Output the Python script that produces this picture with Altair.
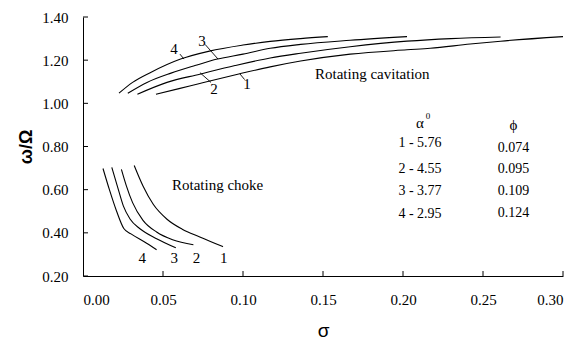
import altair as alt
import pandas as pd

# Rotating cavitation curves (sigma, omega/Omega)
cav1_x = [0.0456, 0.060, 0.073, 0.098, 0.117, 0.136, 0.167, 0.2025, 0.217, 0.242, 0.261, 0.300]
cav1_y = [1.042, 1.068, 1.092, 1.137, 1.169, 1.196, 1.228, 1.248, 1.255, 1.275, 1.288, 1.309]
cav2_x = [0.034, 0.0525, 0.073, 0.095, 0.117, 0.136, 0.167, 0.2025, 0.230, 0.261]
cav2_y = [1.042, 1.097, 1.135, 1.175, 1.210, 1.232, 1.262, 1.288, 1.300, 1.307]
cav3_x = [0.028, 0.040, 0.055, 0.070, 0.084, 0.100, 0.117, 0.136, 0.167, 0.2025]
cav3_y = [1.047, 1.097, 1.140, 1.175, 1.205, 1.228, 1.255, 1.273, 1.292, 1.309]
cav4_x = [0.0225, 0.031, 0.042, 0.061, 0.079, 0.100, 0.117, 0.136, 0.153]
cav4_y = [1.047, 1.097, 1.142, 1.205, 1.242, 1.270, 1.287, 1.300, 1.309]

# Rotating choke curves
ch1_x = [0.032, 0.0375, 0.044, 0.0525, 0.062, 0.073, 0.0875]
ch1_y = [0.712, 0.617, 0.531, 0.463, 0.417, 0.381, 0.336]
ch2_x = [0.024, 0.027, 0.031, 0.0375, 0.046, 0.056, 0.069]
ch2_y = [0.694, 0.620, 0.540, 0.458, 0.404, 0.368, 0.345]
ch3_x = [0.018, 0.0221, 0.0252, 0.0294, 0.0356, 0.046, 0.058]
ch3_y = [0.703, 0.600, 0.525, 0.464, 0.419, 0.373, 0.331]
ch4_x = [0.0125, 0.0165, 0.021, 0.0255, 0.030, 0.038, 0.046]
ch4_y = [0.698, 0.600, 0.500, 0.420, 0.395, 0.360, 0.322]

# Curve number labels
num_text = ["4", "3", "2", "1", "4", "3", "2", "1"]
num_x = [0.0569, 0.0744, 0.0819, 0.1025, 0.037, 0.057, 0.071, 0.088]
num_y = [1.251, 1.291, 1.065, 1.088, 0.282, 0.282, 0.282, 0.282]

# Leader lines from number labels to curves
lead_x = [0.0606, 0.0763, 0.0731, 0.0980]
lead_y = [1.228, 1.273, 1.142, 1.137]
lead_x2 = [0.0631, 0.0844, 0.0800, 0.1010]
lead_y2 = [1.205, 1.205, 1.097, 1.110]

# Region annotations
region_text = ["Rotating cavitation", "Rotating choke"]
region_x = [0.145, 0.0556]
region_y = [1.137, 0.621]

# Legend table
alpha_rows = ["1 - 5.76", "2 - 4.55", "3 - 3.77", "4 - 2.95"]
alpha_y = [0.816, 0.698, 0.594, 0.485]
phi_rows = ["0.074", "0.095", "0.109", "0.124"]
phi_y = [0.793, 0.694, 0.594, 0.490]
head_text = ["α", "ϕ"]
head_x = [0.2106, 0.2690]
head_y = [0.911, 0.900]

x_ticks = [0.05, 0.10, 0.15, 0.20, 0.25, 0.30]
y_ticks = [0.20, 0.40, 0.60, 0.80, 1.00, 1.20, 1.40]

FONT = "Times New Roman"

rows = []
for name, xs_, ys_ in [("c1", cav1_x, cav1_y), ("c2", cav2_x, cav2_y),
                       ("c3", cav3_x, cav3_y), ("c4", cav4_x, cav4_y),
                       ("k1", ch1_x, ch1_y), ("k2", ch2_x, ch2_y),
                       ("k3", ch3_x, ch3_y), ("k4", ch4_x, ch4_y)]:
    for i, (a, b) in enumerate(zip(xs_, ys_)):
        rows.append({"curve": name, "s": a, "w": b, "o": i})
curves = pd.DataFrame(rows)

xs = alt.Scale(domain=[0, 0.30], nice=False, zero=False)
ys = alt.Scale(domain=[0.2, 1.4], nice=False, zero=False)

W, H = 480, 259

base_x = alt.X("s:Q", scale=xs,
               axis=alt.Axis(values=[0, 0.05, 0.10, 0.15, 0.20, 0.25, 0.30], format=".2f",
                             title="σ", grid=False, tickSize=0, labelPadding=16,
                             labelFont=FONT, labelFontSize=15, labelColor="black",
                             titleFont="Liberation Sans", titleFontSize=19,
                             titleFontWeight="normal", titlePadding=14, titleColor="black",
                             domainColor="black"))
base_y = alt.Y("w:Q", scale=ys,
               axis=alt.Axis(values=y_ticks, format=".2f", title="ω/Ω", grid=False,
                             tickSize=0, labelPadding=15, labelFont=FONT, labelFontSize=15,
                             labelColor="black", titleFont="Liberation Sans",
                             titleFontSize=18, titleFontWeight="bold", titlePadding=6,
                             titleColor="black", domainColor="black"))

lines = alt.Chart(curves).mark_line(color="black", strokeWidth=1.1, interpolate="monotone").encode(
    x=base_x, y=base_y, detail="curve:N", order="o:Q")

xt = alt.Chart(pd.DataFrame({"t": x_ticks})).mark_rule(color="black", strokeWidth=1).encode(
    x=alt.X("t:Q", scale=xs), y=alt.value(H), y2=alt.value(H - 5))
yt = alt.Chart(pd.DataFrame({"t": y_ticks})).mark_rule(color="black", strokeWidth=1).encode(
    y=alt.Y("t:Q", scale=ys), x=alt.value(0), x2=alt.value(5))

leads = alt.Chart(pd.DataFrame({"a": lead_x, "b": lead_y, "a2": lead_x2, "b2": lead_y2})).mark_rule(
    color="black", strokeWidth=0.9).encode(
    x=alt.X("a:Q", scale=xs), y=alt.Y("b:Q", scale=ys), x2="a2:Q", y2="b2:Q")

nums = alt.Chart(pd.DataFrame({"t": num_text, "a": num_x, "b": num_y})).mark_text(
    font=FONT, fontSize=15, color="black").encode(
    x=alt.X("a:Q", scale=xs), y=alt.Y("b:Q", scale=ys), text="t:N")

regions = alt.Chart(pd.DataFrame({"t": region_text, "a": region_x, "b": region_y})).mark_text(
    font=FONT, fontSize=15, color="black", align="left").encode(
    x=alt.X("a:Q", scale=xs), y=alt.Y("b:Q", scale=ys), text="t:N")

alpha_df = pd.DataFrame({"t": alpha_rows, "a": [head_x[0]] * 4, "b": alpha_y})
phi_df = pd.DataFrame({"t": phi_rows, "a": [head_x[1]] * 4, "b": phi_y})
tab = alt.Chart(pd.concat([alpha_df, phi_df])).mark_text(
    font=FONT, fontSize=14, color="black").encode(
    x=alt.X("a:Q", scale=xs), y=alt.Y("b:Q", scale=ys), text="t:N")

heads = alt.Chart(pd.DataFrame({"t": head_text, "a": head_x, "b": head_y})).mark_text(
    font=FONT, fontSize=15, color="black").encode(
    x=alt.X("a:Q", scale=xs), y=alt.Y("b:Q", scale=ys), text="t:N")

sup = alt.Chart(pd.DataFrame({"t": ["0"], "a": [head_x[0]], "b": [head_y[0]]})).mark_text(
    font=FONT, fontSize=9, color="black", dx=8, dy=-7).encode(
    x=alt.X("a:Q", scale=xs), y=alt.Y("b:Q", scale=ys), text="t:N")

chart = alt.layer(lines, xt, yt, leads, nums, regions, tab, heads, sup).properties(
    width=W, height=H,
    autosize=alt.AutoSizeParams(type="none"),
    padding={"left": 75, "top": 9, "right": 15, "bottom": 67},
).configure_view(stroke=None).configure_axis(domainWidth=1)

chart.save("out.html", embed_options={"renderer": "svg", "actions": False})
